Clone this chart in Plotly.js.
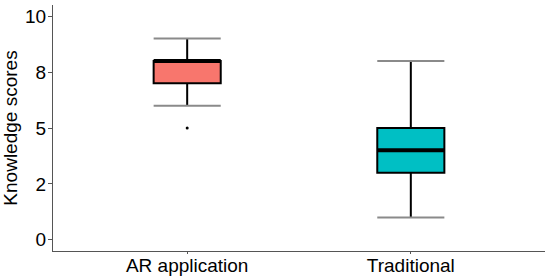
<!DOCTYPE html>
<html><head><meta charset="utf-8">
<script src="https://cdn.plot.ly/plotly-3.0.1.min.js"></script>
<style>html,body{margin:0;padding:0;background:#fff}#chart{width:550px;height:276px}</style>
</head><body><div id="chart"></div>
<script>
const categories = ["AR application", "Traditional"];
const lowerWhisker = [6, 1];
const q1 = [7, 3];
const median = [8, 4];
const q3 = [8, 5];
const upperWhisker = [9, 8];
const outlierGroup = [0];
const outlierValue = [5];
const fillColors = ["#F8766D", "#00BFC4"];
const yTickVals = [0, 2.5, 5, 7.5, 10];
const yTickText = ["0", "2", "5", "8", "10"];

const halfW = 0.15;
const traces = [];
categories.forEach((c, i) => {
  traces.push({
    type: "box", x: [i], q1: [q1[i]], median: [median[i]], q3: [q3[i]],
    lowerfence: [lowerWhisker[i]], upperfence: [upperWhisker[i]],
    width: 2 * halfW, whiskerwidth: 0, fillcolor: fillColors[i],
    line: {color: "#000", width: 2}, boxpoints: false, hoverinfo: "skip", showlegend: false
  });
});
categories.forEach((c, i) => {
  [lowerWhisker[i], upperWhisker[i]].forEach(v => {
    traces.push({type: "scatter", mode: "lines", x: [i - halfW, i + halfW], y: [v, v],
      line: {color: "#8a8a8a", width: 2}, showlegend: false, hoverinfo: "skip"});
  });
  traces.push({type: "scatter", mode: "lines", x: [i - halfW, i + halfW], y: [median[i], median[i]],
    line: {color: "#000", width: 4}, showlegend: false, hoverinfo: "skip"});
});
traces.push({type: "scatter", mode: "markers", x: outlierGroup, y: outlierValue,
  marker: {color: "#000", size: 3}, showlegend: false, hoverinfo: "skip"});

const layout = {
  width: 550, height: 276,
  margin: {l: 53, r: 5, t: 5, b: 25},
  paper_bgcolor: "#fff", plot_bgcolor: "#fff",
  font: {family: "Liberation Sans, Arial, sans-serif", color: "#000", size: 19},
  boxmode: "overlay",
  xaxis: {range: [-0.6, 1.6], tickvals: [0, 1], ticktext: categories, showgrid: false, zeroline: false,
    showline: true, linecolor: "#555", linewidth: 1, ticks: "outside", ticklen: 2, tickcolor: "#555",
    ticklabelstandoff: -5, tickfont: {size: 19, color: "#000"}, fixedrange: true},
  yaxis: {range: [-0.5, 10.5], tickvals: yTickVals, ticktext: yTickText, showgrid: false, zeroline: false,
    showline: true, linecolor: "#555", linewidth: 1, ticks: "outside", ticklen: 4, tickcolor: "#555",
    ticklabelstandoff: -2,
    tickfont: {size: 19, color: "#000"}, title: {text: "Knowledge scores", font: {size: 19, color: "#000"}, standoff: 6}}
};
Plotly.newPlot("chart", traces, layout, {displayModeBar: false, staticPlot: true});
</script></body></html>
